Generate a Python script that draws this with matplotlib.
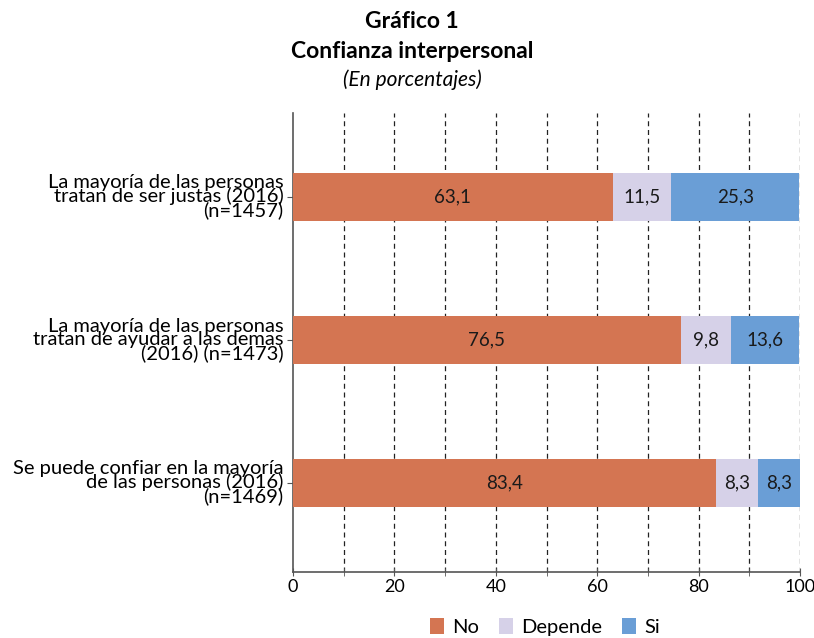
import matplotlib
matplotlib.use("Agg")
import matplotlib.pyplot as plt
from matplotlib.patches import Patch

plt.rcParams['font.family'] = ['Lato', 'DejaVu Sans']

categories = [
    "La mayoría de las personas\ntratan de ser justas (2016)\n(n=1457)",
    "La mayoría de las personas\ntratan de ayudar a las demas\n(2016) (n=1473)",
    "Se puede confiar en la mayoría\nde las personas (2016)\n(n=1469)",
]
series_names = ["No", "Depende", "Si"]
no_vals = [63.1, 76.5, 83.4]
depende_vals = [11.5, 9.8, 8.3]
si_vals = [25.3, 13.6, 8.3]
colors = ["#D47552", "#D6D1E8", "#6A9ED6"]
xticks = [0, 20, 40, 60, 80, 100]

fig = plt.figure(figsize=(8.14, 6.38), dpi=100)
ax = fig.add_axes([293/814, 1-572/638, 507/814, 459/638])

ypos = list(range(len(categories)))
left = [0]*len(categories)
for vals, col in zip([no_vals, depende_vals, si_vals], colors):
    bars = ax.barh(ypos, vals, left=left, height=0.336, color=col, zorder=3)
    for b, v, l in zip(bars, vals, left):
        ax.text(l + v/2, b.get_y() + b.get_height()/2, f"{v:.1f}".replace(".", ","),
                ha="center", va="center", fontsize=13.5, color="#1a1a1a", zorder=4)
    left = [a+b for a, b in zip(left, vals)]

ax.set_xlim(0, 100)
ax.set_ylim(2.62, -0.59)
ax.set_yticks(ypos)
ax.set_yticklabels(categories, fontsize=14.5, linespacing=0.72, ha="right")
ax.set_xticks(xticks)
ax.set_xticklabels([str(t) for t in xticks], fontsize=13)
ax.set_xticks(list(range(10, 100, 20)), minor=True)
for x in range(10, 101, 10):
    ax.axvline(x, color="#222222", linestyle=(0, (4, 3)), linewidth=0.9, zorder=1)

for s in ["top", "right"]:
    ax.spines[s].set_visible(False)
for s in ["left", "bottom"]:
    ax.spines[s].set_color("#555555")
    ax.spines[s].set_linewidth(1.2)
ax.tick_params(axis="x", which="both", direction="inout", length=6, color="#555555", pad=2)
ax.tick_params(axis="y", length=4, color="#555555", pad=3)

fig.text(412/814, 1-22/638, "Gráfico 1", ha="center", va="center", fontsize=16.5, fontweight="bold")
fig.text(412/814, 1-52/638, "Confianza interpersonal", ha="center", va="center", fontsize=16.5, fontweight="bold")
fig.text(412/814, 1-80/638, "(En porcentajes)", ha="center", va="center", fontsize=15, style="italic")

handles = [Patch(facecolor=c, edgecolor="none") for c in colors]
fig.legend(handles, series_names, loc="center", bbox_to_anchor=(545/814, 1-627/638), ncol=3,
           frameon=False, fontsize=14.5, handlelength=0.7, handleheight=0.8,
           columnspacing=1.0, handletextpad=0.4)

fig.savefig("out.png", dpi=100)
